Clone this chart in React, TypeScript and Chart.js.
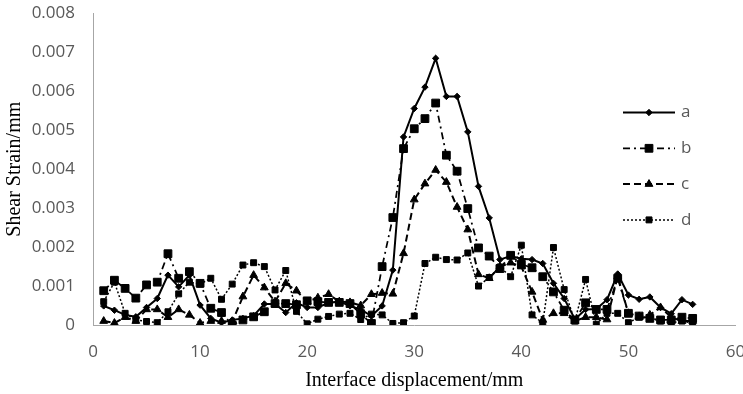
import React, { useEffect, useRef } from 'react';
import { Chart, registerables } from 'chart.js';
import { drawPoint } from 'chart.js/helpers';

Chart.register(...registerables);

const displacement = [1,2,3,4,5,6,7,8,9,10,11,12,13,14,15,16,17,18,19,20,21,22,23,24,25,26,27,28,29,30,31,32,33,34,35,36,37,38,39,40,41,42,43,44,45,46,47,48,49,50,51,52,53,54,55,56];

const seriesA = [0.00049,0.00038,0.00026,0.00021,0.00045,0.00068,0.00128,0.00098,0.00128,0.00051,
  0.00017,0.00006,0.00013,0.00017,0.00024,0.00054,0.00054,0.00032,0.00057,0.00045,
  0.00045,0.00057,0.0006,0.00049,0.0004,0.00023,0.00049,0.00141,0.00483,0.00556,
  0.00611,0.00685,0.00587,0.00587,0.00496,0.00356,0.00275,0.00168,0.00177,0.0017,
  0.00168,0.00158,0.00107,0.00068,0.00015,0.0004,0.00041,0.00065,0.00131,0.00077,
  0.00066,0.00072,0.00045,0.00029,0.00065,0.00053];

const seriesB = [0.00088,0.00115,0.00094,0.00069,0.00103,0.0011,0.00183,0.0012,0.00137,0.00107,
  0.00043,0.00032,0.0,0.00013,0.00021,0.00034,0.00055,0.00055,0.00052,0.00062,
  0.0006,0.00058,0.00058,0.00055,0.00028,0.00004,0.0015,0.00276,0.00453,0.00504,
  0.0053,0.0057,0.00436,0.00395,0.00299,0.00198,0.00177,0.00145,0.00179,0.00156,
  0.00147,0.00124,0.00085,0.00038,0.00013,0.00057,0.0004,0.0004,0.0012,0.0003,
  0.00023,0.00017,0.00013,0.00013,0.0002,0.00017];

const seriesC = [0.0001,0.00005,0.0002,0.0001,0.0004,0.0004,0.0002,0.0004,0.00026,0.00005,
  0.0001,0.0001,0.00008,0.00073,0.00128,0.00096,0.0006,0.00107,0.00088,0.0006,
  0.0007,0.00079,0.0006,0.00058,0.0005,0.00079,0.00082,0.0008,0.00184,0.00322,
  0.00363,0.00398,0.00367,0.00303,0.00245,0.0013,0.0012,0.0015,0.0016,0.0015,
  0.00085,0.00013,0.0003,0.0003,0.0001,0.0002,0.0002,0.00014,0.00125,0.0003,
  0.00022,0.00026,0.00045,0.0002,0.0001,0.0001];

const seriesD = [0.0006,0.0011,0.0003,0.00013,0.00009,0.00006,0.00034,0.0008,0.0011,0.00105,
  0.0012,0.00066,0.00105,0.00154,0.0016,0.0015,0.0009,0.0014,0.00035,0.00003,
  0.00015,0.00022,0.00028,0.0003,0.00014,0.00028,0.00026,0.00004,0.00006,0.00023,
  0.00158,0.00174,0.00168,0.00167,0.00185,0.001,0.00122,0.00149,0.00124,0.00205,
  0.00026,0.00005,0.00199,0.00091,0.0001,0.00117,0.00002,0.0003,0.0003,0.00006,
  0.0002,0.00017,0.0001,0.00006,0.0001,0.00005];

const seriesLabels = ['a', 'b', 'c', 'd'];
const xTitle = 'Interface displacement/mm';
const yTitle = 'Shear Strain/mm';
const xMin = 0, xMax = 60, xStep = 10;
const yMin = 0, yMax = 0.008, yStep = 0.001;

const TICK_FONT = { family: '"Open Sans", sans-serif', size: 17 };
const TITLE_FONT = { family: '"Liberation Serif", "Times New Roman", serif', size: 20 };
const TICK_COLOR = '#595959';
const AXIS_COLOR = '#a6a6a6';

const legendPlugin = {
  id: 'sideLegend',
  afterDraw(chart: any) {
    const ctx = chart.ctx;
    chart.data.datasets.forEach((ds: any, i: number) => {
      const y = 112.5 + i * 35.8;
      ctx.save();
      ctx.strokeStyle = ds.borderColor;
      ctx.lineWidth = ds.borderWidth;
      ctx.setLineDash(ds.borderDash || []);
      ctx.beginPath();
      ctx.moveTo(623, y);
      ctx.lineTo(675, y);
      ctx.stroke();
      ctx.setLineDash([]);
      ctx.fillStyle = ds.pointBackgroundColor;
      ctx.strokeStyle = ds.pointBorderColor;
      ctx.lineWidth = 1;
      drawPoint(ctx, { pointStyle: ds.pointStyle, radius: ds.pointRadius, rotation: 0, borderWidth: 1 }, 649, y);
      ctx.fillStyle = TICK_COLOR;
      ctx.font = `${TICK_FONT.size}px ${TICK_FONT.family}`;
      ctx.textAlign = 'left';
      ctx.textBaseline = 'middle';
      ctx.fillText(ds.label, 681, y);
      ctx.restore();
    });
  },
};

function toPoints(vals: number[]) {
  return displacement.map((x, i) => ({ x, y: vals[i] }));
}

function zeroPad(s: any) {
  s.paddingLeft = 0;
  s.paddingRight = 0;
  s.paddingTop = 0;
  s.paddingBottom = 0;
}

export default function App() {
  const ref = useRef<HTMLCanvasElement | null>(null);
  useEffect(() => {
    if (!ref.current) return;
    const mk = (label: string, vals: number[], dash: number[], width: number, style: string, radius: number) => ({
      label,
      data: toPoints(vals),
      borderColor: '#000',
      backgroundColor: '#000',
      borderWidth: width,
      borderDash: dash,
      pointStyle: style,
      pointRadius: radius,
      pointBackgroundColor: '#000',
      pointBorderColor: '#000',
      pointBorderWidth: 1,
      tension: 0,
      fill: false,
    });
    const chart = new Chart(ref.current, {
      type: 'line',
      data: {
        datasets: [
          mk(seriesLabels[0], seriesA, [], 2, 'rectRot', 3.2),
          mk(seriesLabels[1], seriesB, [7, 4, 2, 4], 1.75, 'rect', 5.5),
          mk(seriesLabels[2], seriesC, [7, 4], 2, 'triangle', 4.5),
          mk(seriesLabels[3], seriesD, [2, 2], 1.5, 'rect', 4.2),
        ],
      },
      options: {
        responsive: false,
        animation: false,
        devicePixelRatio: 1,
        layout: { padding: { left: 0, right: 7.5, top: 13.5, bottom: 0 } },
        plugins: { legend: { display: false }, tooltip: { enabled: false } },
        scales: {
          x: {
            type: 'linear',
            min: xMin,
            max: xMax,
            grid: { display: false, drawTicks: false },
            border: { display: true, color: AXIS_COLOR, width: 1 },
            ticks: { stepSize: xStep, color: TICK_COLOR, font: TICK_FONT, padding: 17, maxRotation: 0 },
            title: {
              display: true,
              text: xTitle,
              color: '#000',
              font: TITLE_FONT,
              padding: { top: 0, bottom: 1 },
            },
            afterFit: (s: any) => { s.height = 394 - 325; zeroPad(s); },
          },
          y: {
            type: 'linear',
            min: yMin,
            max: yMax,
            grid: { display: false, drawTicks: false },
            border: { display: true, color: AXIS_COLOR, width: 1 },
            ticks: {
              stepSize: yStep,
              color: TICK_COLOR,
              font: TICK_FONT,
              padding: 18,
              callback: (v: any) => (Number(v) === 0 ? '0' : Number(v).toFixed(3)),
            },
            title: {
              display: true,
              text: yTitle,
              color: '#000',
              font: TITLE_FONT,
              padding: { top: 3, bottom: 0 },
            },
            afterFit: (s: any) => { s.width = 93; zeroPad(s); },
          },
        },
      },
      plugins: [legendPlugin],
    });
    return () => chart.destroy();
  }, []);
  return (
    <div style={{ position: 'absolute', left: 0, top: 0, width: 743, height: 394, background: '#fff' }}>
      <canvas ref={ref} width={743} height={394} style={{ width: 743, height: 394, display: 'block' }} />
    </div>
  );
}
